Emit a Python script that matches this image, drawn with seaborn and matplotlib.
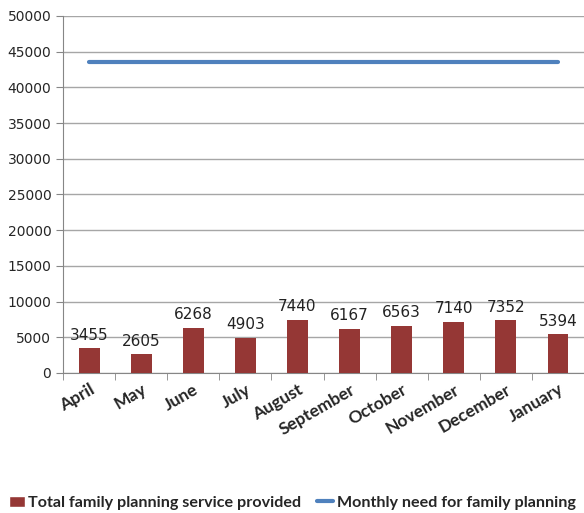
import numpy as np
import pandas as pd
import matplotlib
matplotlib.use("Agg")
import matplotlib.pyplot as plt
import seaborn as sns
from matplotlib.lines import Line2D
from matplotlib.patches import Patch

months = ["April", "May", "June", "July", "August", "September",
          "October", "November", "December", "January"]
services = [3455, 2605, 6268, 4903, 7440, 6167, 6563, 7140, 7352, 5394]
need = [43500] * len(months)

bar_color = "#953735"
line_color = "#4F81BD"

df = pd.DataFrame({"month": months, "services": services, "need": need})
df["pos"] = np.arange(len(months))

sns.set_style("white")
plt.rcParams["font.family"] = ["DejaVu Sans"]

fig = plt.figure(figsize=(5.84, 5.13), dpi=100)
ax = fig.add_axes([0.108, 0.273, 0.892, 0.696])

sns.barplot(data=df, x="month", y="services", color=bar_color, width=0.4,
            saturation=1, linewidth=0, ax=ax, zorder=3)
sns.lineplot(data=df, x="pos", y="need", color=line_color, linewidth=3,
             ax=ax, zorder=4)

# value labels on bars
for i, v in enumerate(services):
    ax.text(i, v + 800, str(v), ha="center", va="bottom", fontsize=11, color="#222222")

ax.set_ylim(0, 50000)
ax.set_xlim(-0.5, len(months) - 0.5)
ax.set_yticks(np.arange(0, 50001, 5000))
ax.yaxis.grid(True, color="#A6A6A6", linewidth=1)
ax.set_axisbelow(True)
ax.set_xlabel("")
ax.set_ylabel("")

for s in ["top", "right"]:
    ax.spines[s].set_visible(False)
ax.spines["left"].set_color("#868686")
ax.spines["bottom"].set_color("#868686")

ax.tick_params(axis="y", labelsize=10, length=5, color="#868686", left=True)
ax.set_xticks(df["pos"])
ax.set_xticklabels(months, rotation=30, ha="right", rotation_mode="anchor",
                   fontsize=12.5, fontweight="bold", family="Lato")
ax.tick_params(axis="x", length=0, pad=6)
ax.set_xticks(np.arange(-0.5, len(months), 1), minor=True)
ax.tick_params(axis="x", which="minor", length=5, color="#868686", bottom=True)

handles = [Patch(facecolor=bar_color, label="Total family planning service provided"),
           Line2D([0], [0], color=line_color, linewidth=3,
                  label="Monthly need for family planning")]
fig.legend(handles=handles, loc="center", bbox_to_anchor=(0.5, 0.02), ncol=2,
           frameon=False, prop={"family": "Lato", "weight": "bold", "size": 11.6},
           handlelength=1.0, handletextpad=0.2, columnspacing=1.0,
           borderaxespad=0)

fig.savefig("out.png", dpi=100)
